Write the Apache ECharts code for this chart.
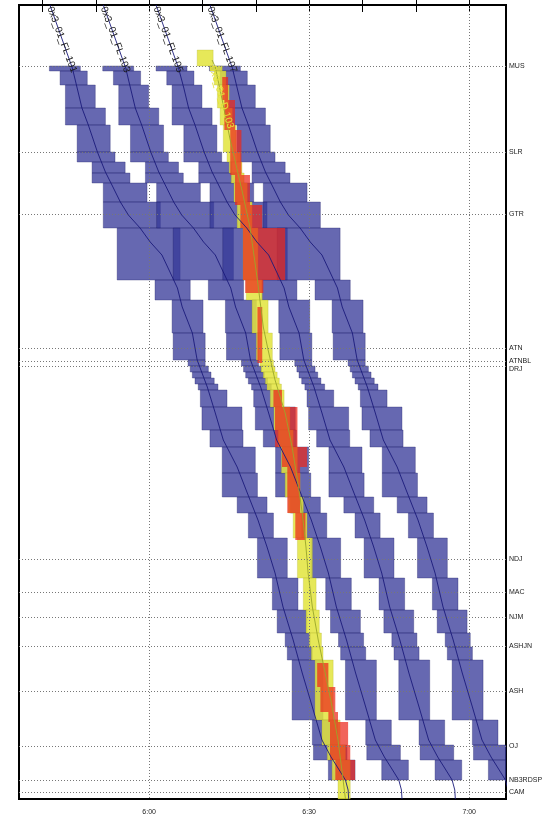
<!DOCTYPE html>
<html>
<head>
<meta charset="utf-8">
<script src="https://cdn.jsdelivr.net/npm/echarts@6.0.0/dist/echarts.min.js"></script>
<style>
  html, body { margin: 0; padding: 0; background: #fff; }
  #chart { width: 548px; height: 817px; }
</style>
</head>
<body>
<div id="chart"></div>
<script>
// stations along the line (km from the top of the diagram)
const STATIONS = ['MUS', 'SLR', 'GTR', 'ATN', 'ATNBL', 'DRJ', 'NDJ', 'MAC', 'NJM', 'ASHJN', 'ASH', 'OJ', 'NB3RDSP', 'CAM'];
const STATION_KM = [6.1, 14.7, 20.9, 34.3, 35.6, 36.1, 55.4, 58.7, 61.2, 64.1, 68.6, 74.1, 77.5, 78.7];

// time axis (minutes after midnight)
const TIME_TICKS = [340, 350, 360, 370, 380, 390, 400, 410, 420];
const TIME_LABELS = [360, 390, 420];

// block sections [from km, to km]
const SECTIONS = [
  [4.5, 6.1], [6.1, 6.6], [6.6, 8.0], [8.0, 10.3], [10.3, 12.0], [12.0, 14.7], [14.7, 15.7],
  [15.7, 16.8], [16.8, 17.8], [17.8, 19.7], [19.7, 22.3], [22.3, 27.5], [27.5, 29.5], [29.5, 32.8],
  [32.8, 35.5], [35.5, 36.1], [36.1, 36.7], [36.7, 37.3], [37.3, 37.9], [37.9, 38.5], [38.5, 40.2],
  [40.2, 42.5], [42.5, 44.2], [44.2, 46.8], [46.8, 49.2], [49.2, 50.8], [50.8, 53.3], [53.3, 57.3],
  [57.3, 60.5], [60.5, 62.8], [62.8, 64.2], [64.2, 65.5], [65.5, 71.5], [71.5, 74.0], [74.0, 75.5],
  [75.5, 77.5], [77.5, 79.4]
];

// blocking times per section: occupation start / end (minutes)
const B101_IN = [null, 341.3, 343.3, 344.3, 344.3, 346.5, 346.5, 349.3, 349.3, 351.4, 351.4, 354.0, 361.1, 364.3, 364.5, 367.3, 367.7, 368.1, 368.6, 369.2, 369.6, 369.9, 371.4, 373.7, 373.7, 376.5, 378.6, 380.3, 383.1, 384.0, 385.5, 385.9, 386.8, 390.6, 390.8, 393.6, null];
const B101_OUT = [null, 347.1, 348.4, 349.9, 351.8, 352.7, 353.6, 355.5, 356.4, 359.6, 362.1, 365.8, 367.7, 370.1, 370.5, 370.5, 371.1, 371.6, 372.2, 372.9, 374.6, 377.4, 377.6, 379.9, 380.3, 382.1, 383.3, 385.9, 387.9, 389.6, 390.2, 390.6, 392.6, 395.4, 397.1, 398.6, null];
const B103_IN = [null, 351.3, 353.3, 354.3, 354.3, 356.5, 356.5, 359.3, 359.3, 361.4, 361.4, 364.5, 371.1, 374.3, 374.5, 377.3, 377.7, 378.1, 378.6, 379.2, 379.6, 379.9, 381.4, 383.7, 383.7, 386.5, 388.6, 390.3, 393.1, 394.0, 395.5, 395.9, 396.8, 400.6, 400.8, 403.6, null];
const B103_OUT = [null, 357.1, 358.4, 359.9, 361.8, 362.7, 363.6, 365.5, 366.4, 369.6, 372.1, 375.8, 377.7, 380.1, 380.5, 380.5, 381.1, 381.6, 382.2, 382.9, 384.6, 387.4, 387.6, 389.9, 390.3, 392.1, 393.3, 395.9, 397.9, 399.6, 400.2, 400.6, 402.6, 405.4, 407.1, 408.6, null];
const B105_IN = [null, 361.3, 363.3, 364.3, 364.3, 366.5, 366.5, 369.3, 369.3, 371.4, 371.4, 373.8, 381.1, 384.3, 384.5, 387.3, 387.7, 388.1, 388.6, 389.2, 389.6, 389.9, 391.4, 393.7, 393.7, 396.5, 398.6, 400.3, 403.1, 404.0, 405.5, 405.9, 406.8, 410.6, 410.8, 413.6, null];
const B105_OUT = [null, 367.1, 368.4, 369.9, 371.8, 372.7, 373.6, 375.5, 376.4, 379.6, 382.1, 385.9, 387.7, 390.1, 390.5, 390.5, 391.1, 391.6, 392.2, 392.9, 394.6, 397.4, 397.6, 399.9, 400.3, 402.1, 403.3, 405.9, 407.9, 409.6, 410.2, 410.6, 412.6, 415.4, 417.1, 418.6, null];
const B107_IN = [null, 371.3, 373.3, 374.3, 374.3, 376.5, 376.5, 379.3, 379.3, 381.4, 381.4, 384.0, 391.1, 394.3, 394.5, 397.3, 397.7, 398.1, 398.6, 399.2, 399.6, 399.9, 401.4, 403.7, 403.7, 406.5, 408.6, 410.3, 413.1, 414.0, 415.5, 415.9, 416.8, 420.6, 420.8, 423.6, null];
const B107_OUT = [null, 377.1, 378.4, 379.9, 381.8, 382.7, 383.6, 385.5, 386.4, 389.6, 392.1, 395.8, 397.7, 400.1, 400.5, 400.5, 401.1, 401.6, 402.2, 402.9, 404.6, 407.4, 407.6, 409.9, 410.3, 412.1, 413.3, 415.9, 417.9, 419.6, 420.2, 420.6, 422.6, 425.4, 427.1, 428.6, null];
const BYEL_IN = [369.0, 371.4, 372.2, 372.8, 373.3, 373.9, 374.6, 375.0, 375.4, 375.9, 376.5, 377.6, 378.2, 379.3, 380.1, 380.8, 381.0, 381.4, 381.8, 382.1, 382.7, 383.4, 384.2, 384.8, 385.5, 386.1, 387.0, 387.8, 388.9, 389.4, 390.0, 390.4, 391.1, 392.4, 393.4, 394.3, 395.4];
const BYEL_OUT = [372.0, 373.7, 374.4, 375.0, 375.6, 376.3, 377.1, 377.4, 377.8, 378.4, 379.3, 380.4, 381.2, 382.3, 383.1, 383.3, 383.6, 384.0, 384.4, 384.8, 385.3, 386.4, 387.0, 387.8, 388.3, 388.9, 389.6, 390.6, 391.3, 391.9, 392.3, 392.6, 394.5, 395.8, 396.8, 397.7, 397.7];

// conflicts of the yellow train [start, end, from km, to km]
const CONFLICTS = [
  [373.7, 374.8, 7.2, 9.5], [374.1, 376.1, 9.5, 12.5], [375.2, 377.3, 12.5, 17.0],
  [376.1, 378.9, 17.0, 20.0], [377.1, 381.2, 20.0, 22.3], [377.6, 385.5, 22.3, 27.5],
  [378.0, 381.4, 27.5, 28.8], [380.3, 381.2, 30.2, 35.8], [383.3, 384.9, 38.5, 40.2],
  [383.6, 387.8, 40.2, 44.2], [384.9, 389.6, 44.2, 46.2], [385.9, 388.3, 46.2, 50.8],
  [387.4, 389.3, 50.8, 53.5], [391.5, 393.6, 65.8, 68.2], [392.1, 394.9, 68.2, 70.7],
  [393.6, 395.4, 70.7, 71.7], [393.9, 397.3, 71.7, 74.0], [393.9, 397.7, 74.0, 75.5],
  [394.9, 398.6, 75.5, 77.5]
];

// train paths: km points and passing times
const TRACK_KM = [0, 6.3, 8.3, 10.3, 12.0, 14.7, 16.7, 18.3, 19.7, 21.0, 22.3, 23.7, 25.0, 26.7, 28.3, 30.2, 32.8, 35.5, 38.2, 40.8, 43.5, 46.2, 48.8, 51.5, 54.2, 56.8, 60.2, 63.5, 66.8, 70.2, 73.5, 75.2, 76.3, 77.5, 78.5, 79.4];
const T101 = [341.4, 345.6, 346.5, 347.4, 348.6, 350.3, 351.8, 353.3, 354.6, 356.1, 358.3, 360.2, 362.4, 363.9, 365.3, 366.2, 368.1, 369.0, 370.9, 372.4, 373.9, 376.5, 378.4, 380.4, 382.1, 383.6, 385.1, 387.0, 388.7, 390.6, 392.4, 394.1, 395.4, 396.8, 397.3, 397.4];
const T103 = [351.4, 355.6, 356.5, 357.4, 358.6, 360.3, 361.8, 363.3, 364.6, 366.1, 368.3, 370.2, 372.4, 373.9, 375.3, 376.2, 378.1, 379.0, 380.9, 382.4, 383.9, 386.5, 388.4, 390.4, 392.1, 393.6, 395.1, 397.0, 398.7, 400.6, 402.4, 404.1, 405.4, 406.8, 407.3, 407.4];
const T105 = [361.3, 365.5, 366.5, 367.4, 368.6, 370.3, 371.8, 373.3, 374.6, 376.1, 378.3, 380.2, 382.4, 383.9, 385.3, 386.2, 388.1, 389.0, 390.9, 392.4, 393.9, 396.5, 398.4, 400.4, 402.1, 403.6, 405.1, 407.0, 408.7, 410.6, 412.4, 414.1, 415.4, 416.8, 417.3, 417.4];
const T107 = [371.4, 375.6, 376.5, 377.4, 378.6, 380.3, 381.8, 383.3, 384.6, 386.1, 388.3, 390.2, 392.4, 393.9, 395.3, 396.2, 398.1, 399.0, 400.9, 402.4, 403.9, 406.5, 408.4, 410.4, 412.1, 413.6, 415.1, 417.0, 418.7, 420.6, 422.4, 424.1, 425.4, 426.8, 427.3, 427.4];
const YEL_KM = [5.5, 6.2, 9.5, 13.5, 16.0, 19.0, 22.2, 27.5, 32.2, 34.5, 37.5, 40.8, 44.2, 47.5, 50.8, 54.2, 56.8, 60.2, 63.5, 66.8, 70.2, 73.5, 76.8, 79.4];
const YEL_T = [371.8, 372.4, 373.7, 375.2, 376.3, 377.6, 378.9, 380.3, 381.4, 382.3, 383.6, 385.5, 386.8, 387.8, 388.7, 389.4, 389.8, 390.6, 391.7, 393.0, 394.3, 395.4, 396.2, 396.8];

const TRAIN_NAMES = ['0x3_01_FL 101', '0x3_01_FL 103', '0x3_01_FL 105', '0x3_01_FL 107'];
const YEL_NAME = '0x3_01_D 103';

const FONT = 'Liberation Sans, Arial, sans-serif';
const fmtTime = (v) => Math.floor(v / 60) + ':' + String(Math.round(v % 60)).padStart(2, '0');

function blocks(ins, outs) {
  const out = [];
  SECTIONS.forEach((s, i) => {
    if (ins[i] != null) out.push([ins[i], outs[i], s[0], s[1]]);
  });
  return out;
}

function path(times, kms) {
  return times.map((t, i) => [t, kms[i]]);
}

// rectangles in time-distance space, clipped to the grid
function renderBlock(params, api) {
  const p1 = api.coord([api.value(0), api.value(2)]);
  const p2 = api.coord([api.value(1), api.value(3)]);
  const cs = params.coordSys;
  const shape = echarts.graphic.clipRectByRect(
    { x: p1[0], y: p1[1], width: p2[0] - p1[0], height: p2[1] - p1[1] },
    { x: cs.x, y: cs.y, width: cs.width, height: cs.height }
  );
  return shape && { type: 'rect', shape: shape, style: api.style() };
}

const blueBlocks = [].concat(
  blocks(B101_IN, B101_OUT),
  blocks(B103_IN, B103_OUT),
  blocks(B105_IN, B105_OUT),
  blocks(B107_IN, B107_OUT)
);
const yellowBlocks = blocks(BYEL_IN, BYEL_OUT);

const bluePaths = [T101, T103, T105, T107].map((t) => path(t, TRACK_KM));

const labelData = bluePaths.map((p) => [p[0][0], p[0][1] + 0.2, p[1][0], p[1][1]]);
labelData.push([YEL_T[0], YEL_KM[0] + 0.6, YEL_T[2], YEL_KM[2]]);
const labelNames = TRAIN_NAMES.concat([YEL_NAME]);

const chart = echarts.init(document.getElementById('chart'));

const xAxisBase = {
  type: 'value',
  min: 335.6,
  max: 426.9,
  axisLine: { show: false },
  splitLine: { show: false },
  axisTick: {
    show: true,
    customValues: TIME_TICKS,
    lineStyle: { color: '#000', width: 1 },
  },
};

const option = {
  animation: false,
  grid: {
    left: 19,
    right: 42,
    top: 5,
    bottom: 18,
    show: true,
    borderColor: '#000',
    borderWidth: 2,
    backgroundColor: '#fff',
  },
  xAxis: [
    Object.assign({}, xAxisBase, {
      position: 'bottom',
      axisTick: Object.assign({}, xAxisBase.axisTick, { length: 7 }),
      axisLabel: {
        customValues: TIME_LABELS,
        formatter: fmtTime,
        fontSize: 7,
        color: '#222',
        fontFamily: FONT,
        margin: 10,
      },
    }),
    Object.assign({}, xAxisBase, {
      position: 'top',
      axisTick: Object.assign({}, xAxisBase.axisTick, { length: 5 }),
      axisLabel: { show: false },
    }),
  ],
  yAxis: {
    type: 'value',
    inverse: true,
    min: 0,
    max: 79.4,
    axisLine: { show: false },
    axisTick: { show: false },
    axisLabel: { show: false },
    splitLine: { show: false },
  },
  series: [
    {
      // station lines + 30-minute lines
      type: 'line',
      data: [],
      z: 1,
      markLine: {
        silent: true,
        symbol: ['none', 'none'],
        animation: false,
        lineStyle: { type: [1, 2], color: '#777', width: 1 },
        label: {
          position: 'end',
          formatter: '{b}',
          fontSize: 7,
          color: '#222',
          fontFamily: FONT,
          distance: 3,
        },
        data: STATIONS.map((s, i) => {
          const item = { name: s, yAxis: STATION_KM[i] };
          if (s === 'DRJ') item.label = { offset: [0, 3] };
          return item;
        }).concat(
          TIME_LABELS.map((t) => ({ xAxis: t, label: { show: false } }))
        ),
      },
    },
    {
      type: 'custom',
      renderItem: renderBlock,
      encode: { x: [0, 1], y: [2, 3] },
      data: blueBlocks,
      z: 2,
      itemStyle: {
        color: 'rgba(54,57,153,0.76)',
        borderColor: 'rgba(28,28,100,0.55)',
        borderWidth: 0.6,
      },
    },
    {
      type: 'custom',
      renderItem: renderBlock,
      encode: { x: [0, 1], y: [2, 3] },
      data: yellowBlocks,
      z: 3,
      itemStyle: {
        color: 'rgba(226,228,60,0.85)',
        borderColor: 'rgba(170,170,40,0.5)',
        borderWidth: 0.5,
      },
    },
    {
      type: 'custom',
      renderItem: renderBlock,
      encode: { x: [0, 1], y: [2, 3] },
      data: CONFLICTS,
      z: 4,
      itemStyle: { color: 'rgba(236,40,28,0.72)' },
    },
  ]
    .concat(bluePaths.map((p) => ({
      type: 'line',
      data: p,
      z: 5,
      symbol: 'none',
      lineStyle: { color: '#1b1b7a', width: 0.9 },
    })))
    .concat([
      {
        type: 'line',
        data: path(YEL_T, YEL_KM),
        z: 5,
        symbol: 'none',
        lineStyle: { color: '#9aa62a', width: 0.9 },
      },
      {
        type: 'custom',
        z: 6,
        encode: { x: 0, y: 1 },
        data: labelData,
        renderItem: function (params, api) {
          const p = api.coord([api.value(0), api.value(1)]);
          const q = api.coord([api.value(2), api.value(3)]);
          const ang = Math.atan2(q[1] - p[1], q[0] - p[0]);
          const isYellow = params.dataIndex === labelNames.length - 1;
          return {
            type: 'text',
            x: p[0],
            y: p[1],
            rotation: -ang,
            style: {
              text: labelNames[params.dataIndex],
              fill: isYellow ? '#e4e236' : '#1a1a1a',
              font: '10px ' + FONT,
              align: 'left',
              verticalAlign: 'middle',
            },
          };
        },
      },
    ]),
};

chart.setOption(option);
</script>
</body>
</html>
